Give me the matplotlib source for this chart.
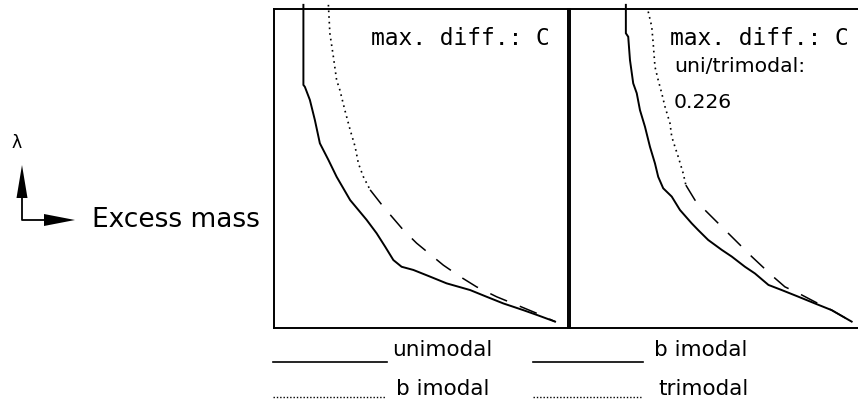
import matplotlib
matplotlib.use("Agg")
import matplotlib.pyplot as plt

# ---------------- data (excess mass x, lambda y; normalised 0..1) ----------------
left_uni_x = [0.100, 0.100, 0.105, 0.122, 0.139, 0.156, 0.185, 0.213, 0.259, 0.315, 0.349,
              0.378, 0.406, 0.434, 0.474, 0.531, 0.587, 0.667, 0.723, 0.780, 0.848, 0.894, 0.956]
left_uni_y = [1.013, 0.762, 0.756, 0.715, 0.652, 0.579, 0.527, 0.474, 0.401, 0.339, 0.297,
              0.255, 0.213, 0.192, 0.182, 0.161, 0.140, 0.119, 0.098, 0.077, 0.056, 0.041, 0.020]

left_bi_x = [0.185, 0.190, 0.202, 0.213, 0.224, 0.241, 0.259, 0.276, 0.287, 0.304, 0.327,
             0.372, 0.440, 0.485, 0.576, 0.633, 0.689, 0.757, 0.826, 0.894, 0.956]
left_bi_y = [1.013, 0.924, 0.850, 0.777, 0.746, 0.683, 0.621, 0.568, 0.516, 0.474, 0.433,
             0.380, 0.307, 0.266, 0.197, 0.161, 0.129, 0.098, 0.072, 0.046, 0.020]
left_split = 10

right_bi_x = [0.190, 0.190, 0.198, 0.204, 0.215, 0.227, 0.238, 0.255, 0.272, 0.289, 0.300,
              0.317, 0.346, 0.374, 0.414, 0.436, 0.470, 0.516, 0.550, 0.595, 0.629, 0.675,
              0.720, 0.777, 0.833, 0.890, 0.958]
right_bi_y = [1.013, 0.924, 0.913, 0.840, 0.767, 0.736, 0.683, 0.631, 0.568, 0.516, 0.474,
              0.438, 0.412, 0.370, 0.328, 0.307, 0.276, 0.245, 0.224, 0.192, 0.171, 0.135,
              0.119, 0.098, 0.077, 0.056, 0.020]

right_tri_x = [0.266, 0.278, 0.283, 0.289, 0.300, 0.312, 0.323, 0.340, 0.346, 0.357, 0.368,
               0.385, 0.394, 0.425, 0.487, 0.618, 0.691, 0.731, 0.777, 0.833, 0.890, 0.958]
right_tri_y = [0.992, 0.945, 0.892, 0.819, 0.777, 0.736, 0.694, 0.642, 0.600, 0.568, 0.537,
               0.485, 0.448, 0.401, 0.344, 0.224, 0.161, 0.129, 0.109, 0.082, 0.056, 0.020]
right_split = 12

left_label = "max. diff.: C"
right_label = "max. diff.: C"
right_extra = ["uni/trimodal:", "0.226"]
legend_left = ["unimodal", "b imodal"]
legend_right = ["b imodal", "trimodal"]

# ---------------- figure ----------------
W, H = 858, 401
fig = plt.figure(figsize=(W / 100, H / 100), dpi=100)
fig.patch.set_facecolor("white")


def px_axes(x0, y0, x1, y1):
    return [x0 / W, 1 - y1 / H, (x1 - x0) / W, (y1 - y0) / H]


solid_kw = dict(color="black", lw=1.4, solid_joinstyle="miter", clip_on=False)
dot_kw = dict(color="black", lw=1.2, linestyle=(0, (1, 2.4)), clip_on=False)
dash_kw = dict(color="black", lw=1.1, linestyle=(0, (12, 9)), clip_on=False)

axL = fig.add_axes(px_axes(274, 9, 568, 328))
axR = fig.add_axes(px_axes(570, 9, 864, 328))
for ax in (axL, axR):
    ax.set_xlim(0, 1)
    ax.set_ylim(0, 1)
    ax.set_xticks([])
    ax.set_yticks([])
    for s in ax.spines.values():
        s.set_linewidth(1.4)
        s.set_color("black")

axL.plot(left_uni_x, left_uni_y, **solid_kw)
axL.plot(left_bi_x[:left_split + 1], left_bi_y[:left_split + 1], **dot_kw)
axL.plot(left_bi_x[left_split:], left_bi_y[left_split:], **dash_kw)

axR.plot(right_bi_x, right_bi_y, **solid_kw)
axR.plot(right_tri_x[:right_split + 1], right_tri_y[:right_split + 1], **dot_kw)
axR.plot(right_tri_x[right_split:], right_tri_y[right_split:], **dash_kw)

# ---------------- overlay in pixel coordinates ----------------
ov = fig.add_axes([0, 0, 1, 1], zorder=5)
ov.set_xlim(0, W)
ov.set_ylim(H, 0)
ov.axis("off")
ov.patch.set_alpha(0)

mono = "DejaVu Sans Mono"
ov.text(371, 45, left_label, family=mono, fontsize=16.5, va="baseline", ha="left")
ov.text(670, 45, right_label, family=mono, fontsize=16.5, va="baseline", ha="left")
ov.text(674, 72, right_extra[0], fontsize=14.7, va="baseline", ha="left")
ov.text(674, 108, right_extra[1], fontsize=14.7, va="baseline", ha="left")

# axis indicator
ov.text(12, 148, "λ", fontsize=12.5, va="baseline", ha="left")
ov.plot([22, 22, 50], [198, 220, 220], color="black", lw=1.3)
ov.fill([22, 16.5, 27.5], [165, 198, 198], color="black", lw=0)
ov.fill([75, 44, 44], [220, 214, 226], color="black", lw=0)
ov.text(92, 227, "Excess mass", fontsize=19, va="baseline", ha="left")

# legends
for (x0, x1, tx), labels in (((273, 387, 392), legend_left), ((533, 643, 654), legend_right)):
    ov.plot([x0, x1], [361.5, 361.5], color="black", lw=1.2)
    ov.plot([x0, x1 - 2], [396.5, 396.5], color="black", lw=1.0, linestyle=(0, (1, 1.4)))
    ov.text(tx, 356.5, labels[0], fontsize=15.5, va="baseline", ha="left")
    ov.text(tx + 4, 395, labels[1], fontsize=15.5, va="baseline", ha="left")

fig.savefig("out.png", dpi=100, facecolor="white")
